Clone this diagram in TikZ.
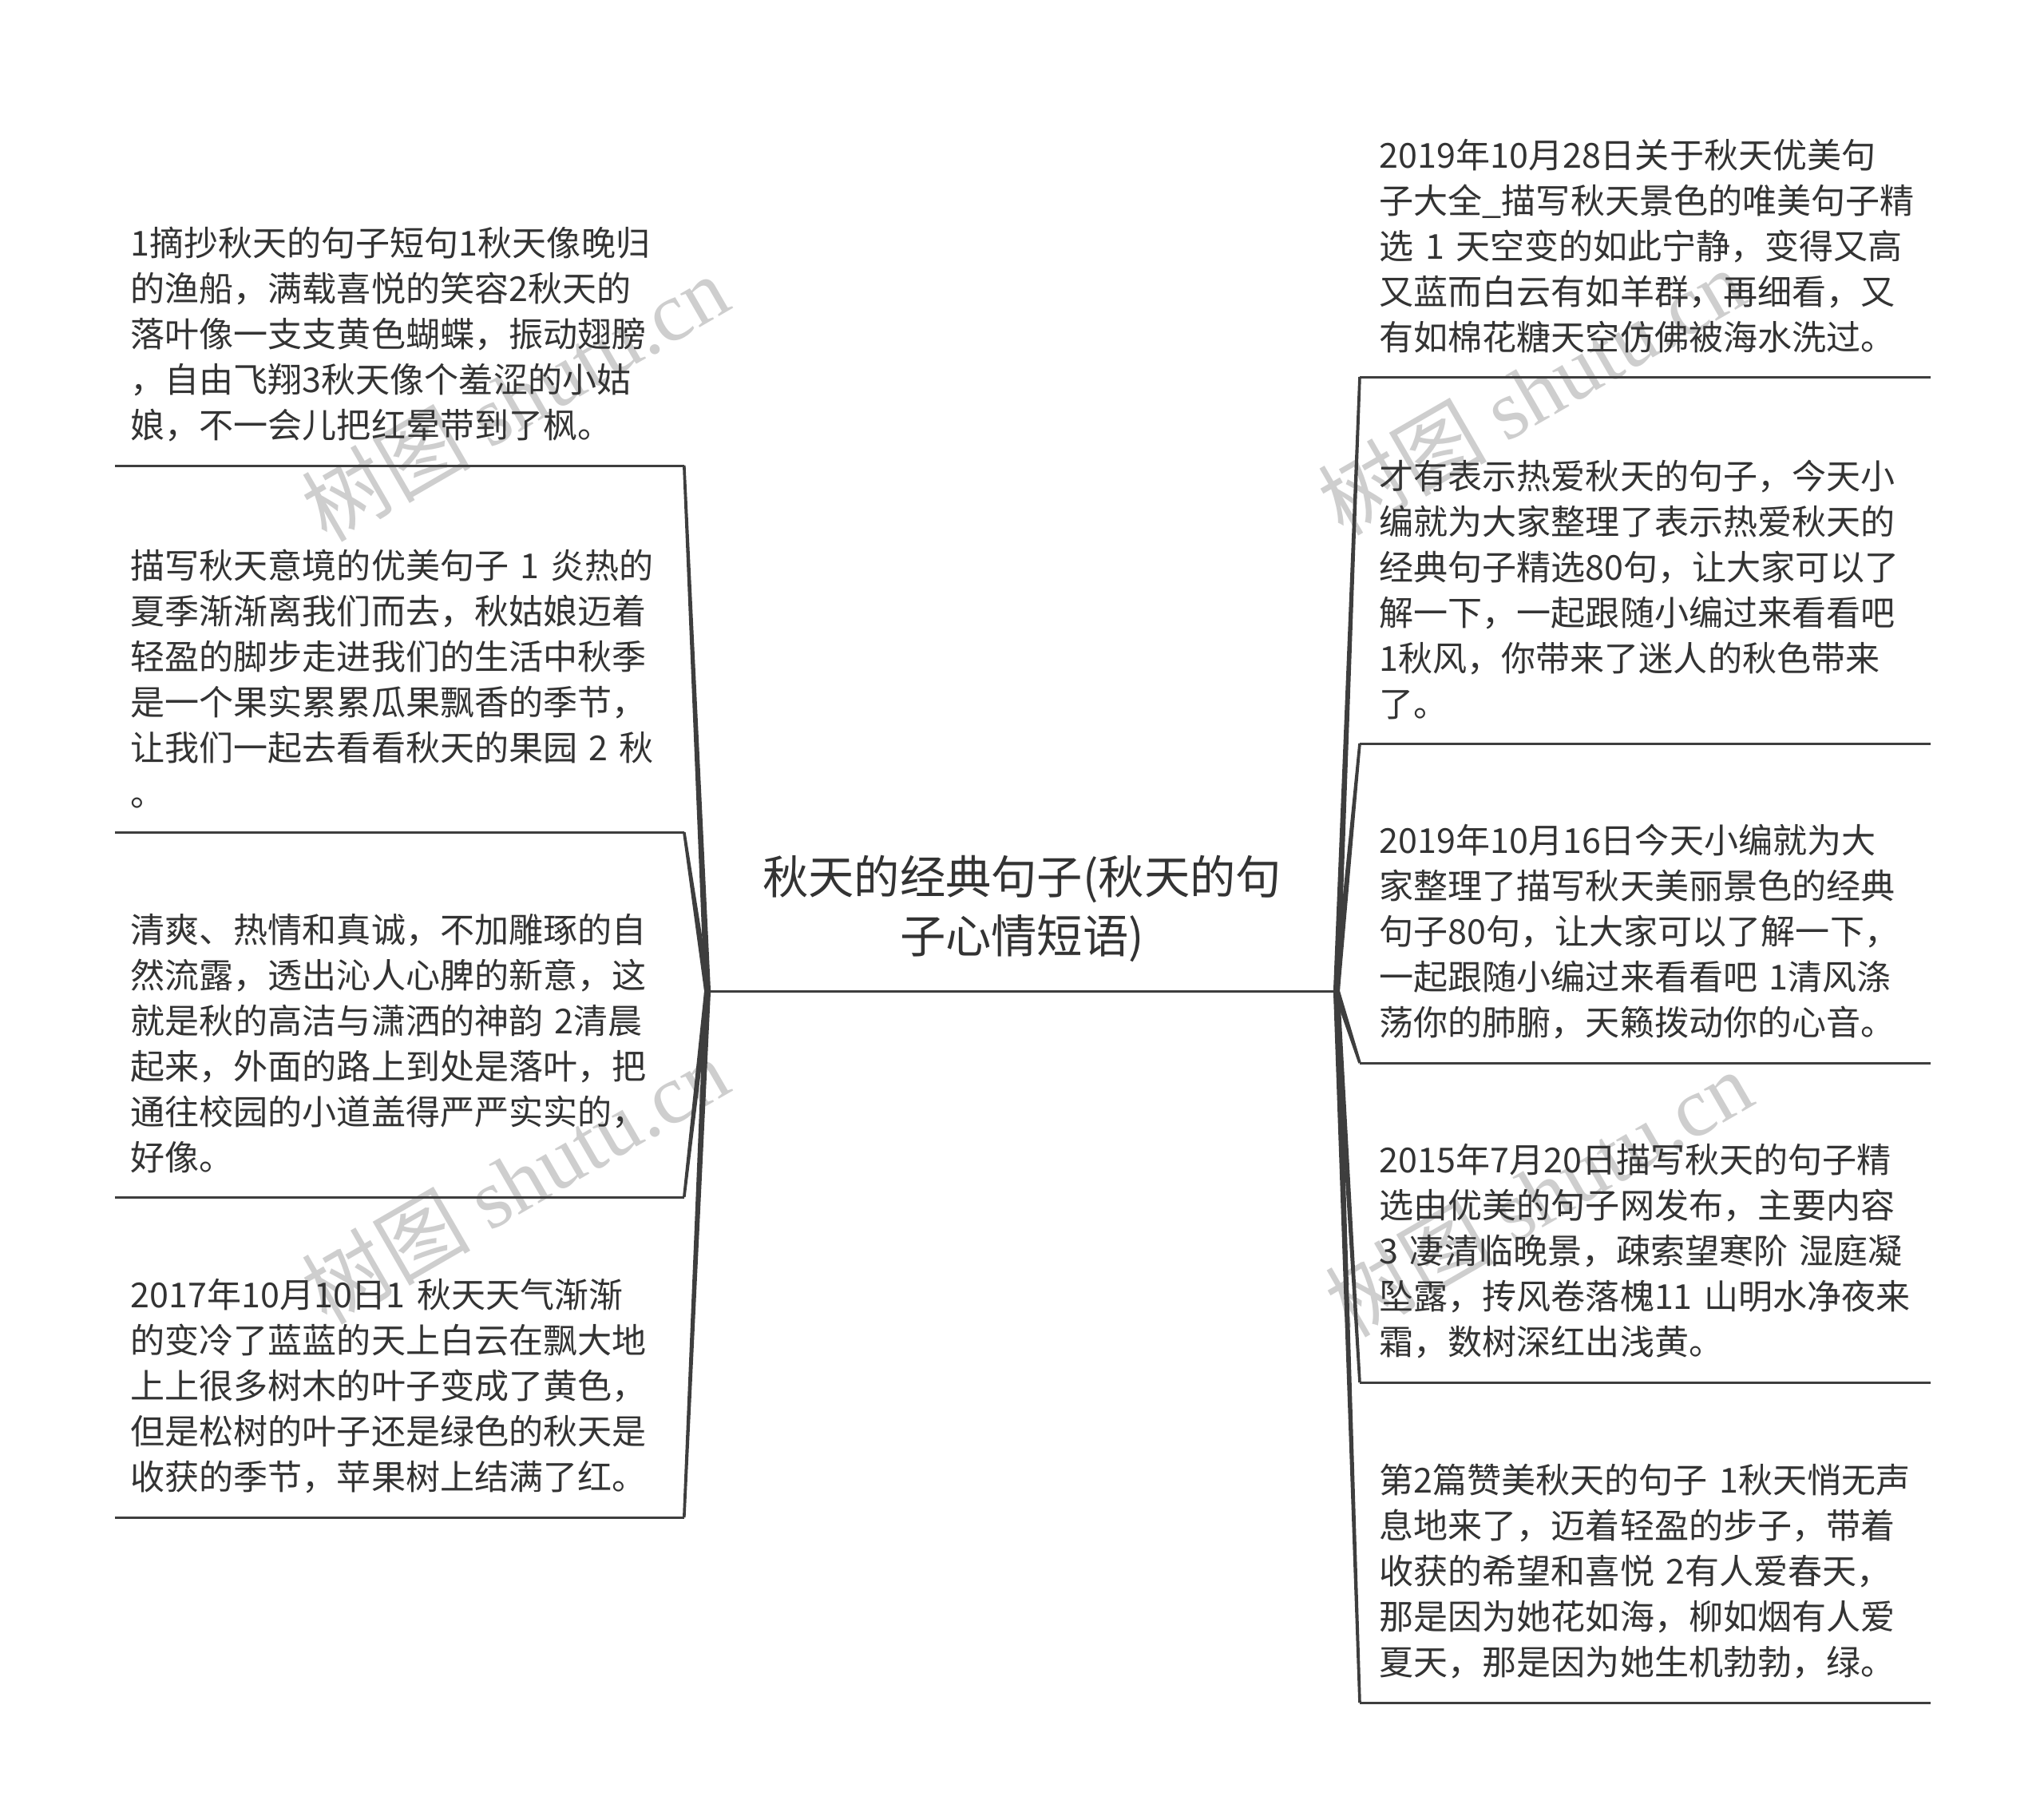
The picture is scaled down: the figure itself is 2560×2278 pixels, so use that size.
\documentclass[tikz,border=0pt]{standalone}
\usepackage{fontspec}
\setmainfont{Noto Sans CJK SC}
\newfontfamily\latinserif{Liberation Serif}
\usetikzlibrary{calc}
\definecolor{inkgray}{RGB}{51,51,51}
\definecolor{linegray}{RGB}{62,62,62}
\definecolor{markgray}{RGB}{206,206,206}
\tikzset{
  leftleaf/.style={anchor=south west, inner xsep=0.19cm, inner ysep=0.29cm, text width=6.73cm,
    align=left, text=inkgray, font=\fontsize{12.24}{16.22}\selectfont},
  rightleaf/.style={anchor=south west, inner xsep=0.24cm, inner ysep=0.29cm, text width=6.65cm,
    align=left, text=inkgray, font=\fontsize{12.24}{16.22}\selectfont},
  rootstyle/.style={anchor=south, minimum width=7.86cm, inner ysep=0.36cm, align=center,
    text=inkgray, font=\fontsize{16.3}{20.8}\selectfont},
  rulestyle/.style={draw=linegray, line width=0.03cm},
  markstyle/.style={rotate=30, text=markgray, font=\fontsize{30}{30}\selectfont}
}
\newcommand{\branch}[2]{\fill[linegray] ($(#1)!0.04cm!90:(#2)$) -- ($(#2)!0.018cm!-90:(#1)$)
  -- ($(#2)!0.018cm!90:(#1)$) -- ($(#1)!0.04cm!-90:(#2)$) -- cycle;}

\begin{document}
\begin{tikzpicture}[x=0.01cm, y=-0.01cm]
  \useasboundingbox (0,0) rectangle (2560,2278);
  \node[markstyle] (m1) at (645,498) {树图 {\latinserif shutu.cn}};
  \node[markstyle] (m2) at (645,1478) {树图 {\latinserif shutu.cn}};
  \node[markstyle] (m3) at (1918,490) {树图 {\latinserif shutu.cn}};
  \node[markstyle] (m4) at (1927,1494) {树图 {\latinserif shutu.cn}};

  \node[rootstyle] (root) at (1280,1241) {秋天的经典句子(秋天的句\\子心情短语)};

  \node[leftleaf] (l1) at (144,583) {1摘抄秋天的句子短句1秋天像晚归\\的渔船，满载喜悦的笑容2秋天的\\落叶像一支支黄色蝴蝶，振动翅膀\\，自由飞翔3秋天像个羞涩的小姑\\娘，不一会儿把红晕带到了枫。};
  \node[leftleaf] (l2) at (144,1042) {描写秋天意境的优美句子~1~炎热的\\夏季渐渐离我们而去，秋姑娘迈着\\轻盈的脚步走进我们的生活中秋季\\是一个果实累累瓜果飘香的季节，\\让我们一起去看看秋天的果园~2~秋\\。};
  \node[leftleaf] (l3) at (144,1499) {清爽、热情和真诚，不加雕琢的自\\然流露，透出沁人心脾的新意，这\\就是秋的高洁与潇洒的神韵~2清晨\\起来，外面的路上到处是落叶，把\\通往校园的小道盖得严严实实的，\\好像。};
  \node[leftleaf] (l4) at (144,1900) {2017年10月10日1~秋天天气渐渐\\的变冷了蓝蓝的天上白云在飘大地\\上上很多树木的叶子变成了黄色，\\但是松树的叶子还是绿色的秋天是\\收获的季节，苹果树上结满了红。};

  \node[rightleaf] (r1) at (1703,472) {2019年10月28日关于秋天优美句\\子大全\_描写秋天景色的唯美句子精\\选~1~天空变的如此宁静，变得又高\\又蓝而白云有如羊群，再细看，又\\有如棉花糖天空仿佛被海水洗过。};
  \node[rightleaf] (r2) at (1703,931) {才有表示热爱秋天的句子，今天小\\编就为大家整理了表示热爱秋天的\\经典句子精选80句，让大家可以了\\解一下，一起跟随小编过来看看吧\\1秋风，你带来了迷人的秋色带来\\了。};
  \node[rightleaf] (r3) at (1703,1331) {2019年10月16日今天小编就为大\\家整理了描写秋天美丽景色的经典\\句子80句，让大家可以了解一下，\\一起跟随小编过来看看吧~1清风涤\\荡你的肺腑，天籁拨动你的心音。};
  \node[rightleaf] (r4) at (1703,1731) {2015年7月20日描写秋天的句子精\\选由优美的句子网发布，主要内容\\3~凄清临晚景，疎索望寒阶~湿庭凝\\坠露，抟风卷落槐11~山明水净夜来\\霜，数树深红出浅黄。};
  \node[rightleaf] (r5) at (1703,2132) {第2篇赞美秋天的句子~1秋天悄无声\\息地来了，迈着轻盈的步子，带着\\收获的希望和喜悦~2有人爱春天，\\那是因为她花如海，柳如烟有人爱\\夏天，那是因为她生机勃勃，绿。};

  \coordinate (lj) at (root.south west);
  \coordinate (rj) at (root.south east);
  \draw[rulestyle] (lj) -- (rj);
  \draw[rulestyle] (l1.south west) -- (l1.south east);
  \draw[rulestyle] (l2.south west) -- (l2.south east);
  \draw[rulestyle] (l3.south west) -- (l3.south east);
  \draw[rulestyle] (l4.south west) -- (l4.south east);
  \draw[rulestyle] (r1.south west) -- (r1.south east);
  \draw[rulestyle] (r2.south west) -- (r2.south east);
  \draw[rulestyle] (r3.south west) -- (r3.south east);
  \draw[rulestyle] (r4.south west) -- (r4.south east);
  \draw[rulestyle] (r5.south west) -- (r5.south east);
  \branch{lj}{l1.south east}
  \branch{lj}{l2.south east}
  \branch{lj}{l3.south east}
  \branch{lj}{l4.south east}
  \branch{rj}{r1.south west}
  \branch{rj}{r2.south west}
  \branch{rj}{r3.south west}
  \branch{rj}{r4.south west}
  \branch{rj}{r5.south west}
\end{tikzpicture}
\end{document}
